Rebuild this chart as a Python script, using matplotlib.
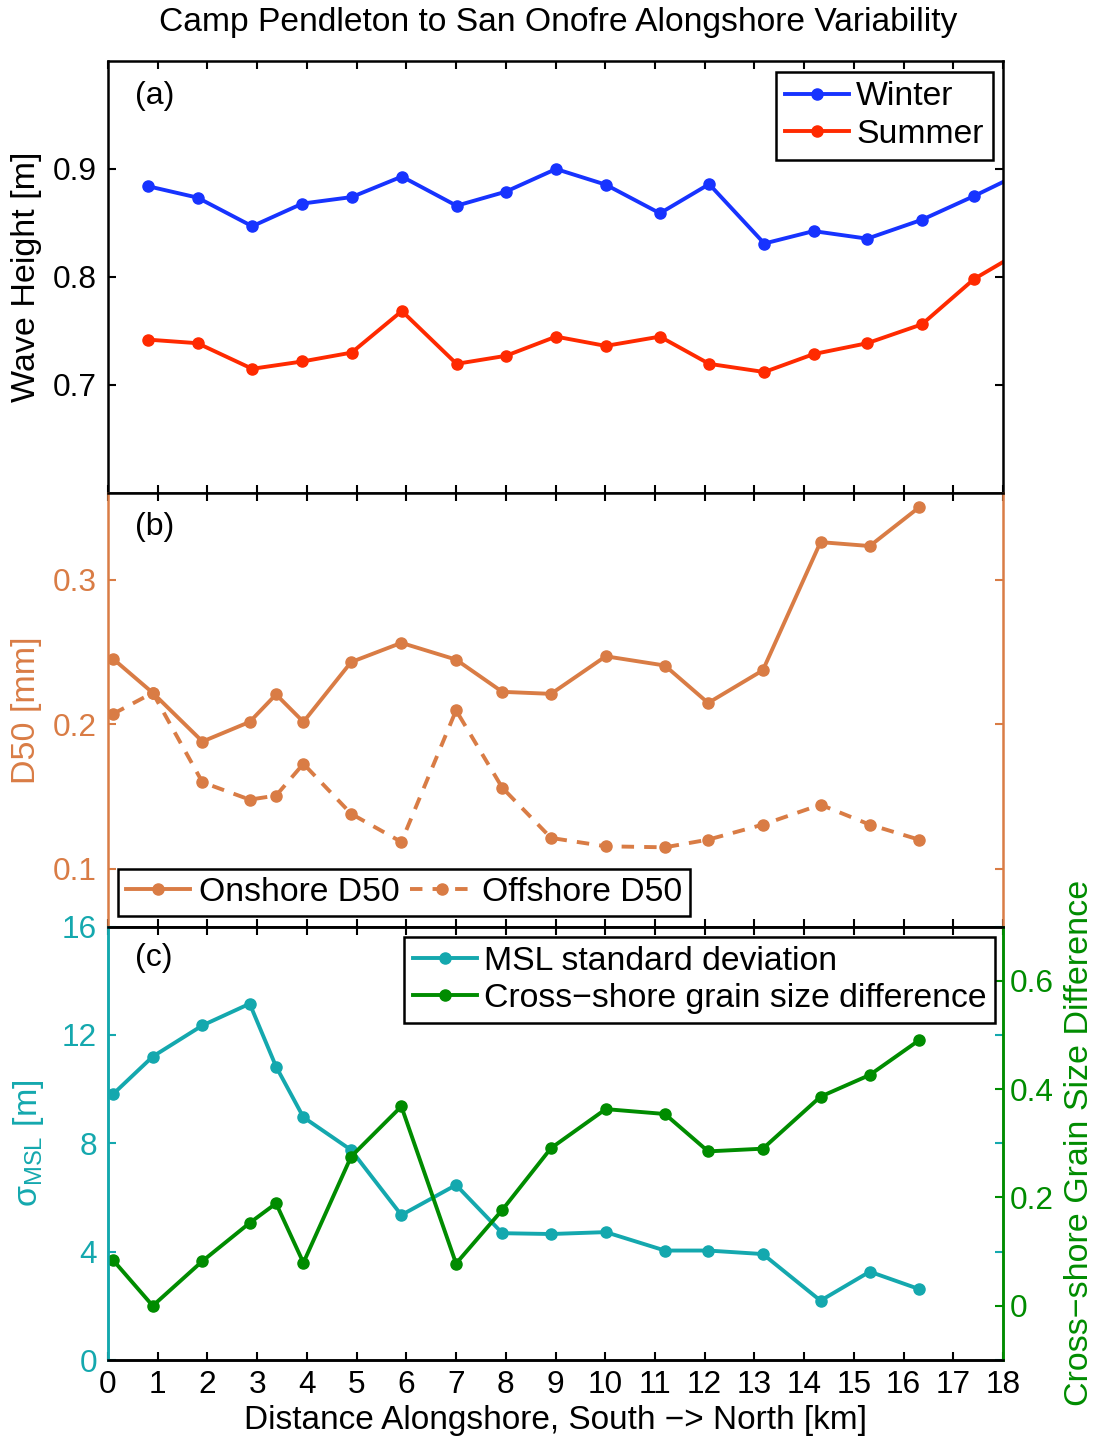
import matplotlib
matplotlib.use("Agg")
import matplotlib.pyplot as plt
from matplotlib.ticker import FuncFormatter

plt.rcParams['font.family'] = ['Liberation Sans', 'DejaVu Sans']
plt.rcParams['mathtext.fontset'] = 'custom'
plt.rcParams['mathtext.rm'] = 'Liberation Sans'
plt.rcParams['mathtext.it'] = 'Liberation Sans:italic'

# ---------------- data ----------------
wave_km = [0.81, 1.80, 2.90, 3.91, 4.90, 5.91, 7.01, 8.00, 9.01, 10.01,
           11.10, 12.09, 13.20, 14.19, 15.27, 16.37, 17.42, 18.45]
winter_h = [0.884, 0.8735, 0.847, 0.868, 0.874, 0.893, 0.866, 0.879, 0.900,
            0.8855, 0.859, 0.886, 0.831, 0.8425, 0.8355, 0.853, 0.875, 0.898]
summer_h = [0.742, 0.7387, 0.715, 0.7218, 0.730, 0.7685, 0.7196, 0.727, 0.7448,
            0.7362, 0.7448, 0.7196, 0.712, 0.7286, 0.7387, 0.7562, 0.7982, 0.826]

sed_km = [0.10, 0.90, 1.90, 2.85, 3.38, 3.93, 4.89, 5.90, 7.00, 7.93, 8.91,
          10.01, 11.20, 12.07, 13.17, 14.33, 15.32, 16.31]
onshore_d50 = [0.2453, 0.2217, 0.188, 0.2016, 0.2206, 0.2016, 0.243, 0.2563,
               0.2447, 0.2224, 0.221, 0.247, 0.2406, 0.2147, 0.2373, 0.326,
               0.3233, 0.350]
offshore_d50 = [0.2071, 0.2217, 0.1598, 0.1478, 0.1506, 0.1726, 0.138, 0.1185,
                0.2096, 0.156, 0.1213, 0.1155, 0.1148, 0.1201, 0.1305, 0.1443,
                0.1305, 0.1201]
msl_std = [9.81, 11.2, 12.35, 13.15, 10.83, 8.96, 7.75, 5.35, 6.46, 4.68, 4.65,
           4.72, 4.04, 4.04, 3.91, 2.19, 3.26, 2.62]
grain_diff = [0.0845, 0.0, 0.0826, 0.153, 0.189, 0.0795, 0.2754, 0.368, 0.078,
              0.177, 0.291, 0.363, 0.354, 0.285, 0.290, 0.386, 0.426, 0.490]

x_ticks = list(range(0, 19))
wave_ticks = [0.7, 0.8, 0.9]
d50_ticks = [0.1, 0.2, 0.3]
msl_ticks = [0, 4, 8, 12, 16]
diff_ticks = [0, 0.2, 0.4, 0.6]

# ---------------- style ----------------
BLUE = '#1733FF'
RED = '#FF2A00'
ORANGE = '#D97C45'
CYAN = '#14A8AE'
GREEN = '#008C00'

TICK_FS = 22.8
LBL_FS = 24.5
LEG_FS = 24.3
TITLE_FS = 24.2
PANEL_FS = 23
LW = 2.8
MS = 8
SPW = 1.8
TL = 5.8

fmt = FuncFormatter(lambda v, p: '%g' % round(v, 6))

fig = plt.figure(figsize=(11, 14.41), dpi=100)
L, W = 108 / 1100, 895 / 1100


def frac(top, bottom):
    return [L, 1 - bottom / 1441, W, (bottom - top) / 1441]


ax_a = fig.add_axes(frac(61, 493))
ax_b = fig.add_axes(frac(493, 926.5))
ax_c = fig.add_axes(frac(926.5, 1360))
ax_c2 = ax_c.twinx()

for ax in (ax_a, ax_b, ax_c, ax_c2):
    ax.set_xlim(0, 18)
    ax.set_xticks(x_ticks)
    ax.tick_params(axis='x', direction='in', top=True, bottom=True,
                   length=TL, width=1.5, pad=7, labelsize=TICK_FS, color='black')
    for s in ax.spines.values():
        s.set_linewidth(SPW)
for ax in (ax_a, ax_b):
    ax.tick_params(axis='x', labelbottom=False)
ax_c2.tick_params(axis='x', top=False, bottom=False, labelbottom=False)

# ---- panel (a) ----
ax_a.plot(wave_km, winter_h, '-o', color=BLUE, lw=LW, ms=MS, label='Winter')
ax_a.plot(wave_km, summer_h, '-o', color=RED, lw=LW, ms=MS, label='Summer')
ax_a.set_ylim(0.6, 1.0)
ax_a.set_yticks(wave_ticks)
ax_a.yaxis.set_major_formatter(fmt)
ax_a.tick_params(axis='y', direction='in', left=True, right=True, length=TL,
                 width=1.5, pad=8, labelsize=TICK_FS)
ax_a.set_ylabel('Wave Height [m]', fontsize=LBL_FS, va='center')
ax_a.yaxis.set_label_coords(-0.091, 0.5)
ax_a.text(0.03, 0.918, '(a)', transform=ax_a.transAxes, fontsize=PANEL_FS, va='center')
leg = ax_a.legend(loc='upper right', bbox_to_anchor=(0.9888, 0.9745),
                  borderaxespad=0, fontsize=LEG_FS, fancybox=False,
                  edgecolor='black', framealpha=1, handlelength=1.9,
                  handletextpad=0.2, borderpad=0.28, labelspacing=0.2)
leg.get_frame().set_linewidth(SPW)

# ---- panel (b) ----
ax_b.plot(sed_km, onshore_d50, '-o', color=ORANGE, lw=LW, ms=MS, label='Onshore D50')
ax_b.plot(sed_km, offshore_d50, '--o', color=ORANGE, lw=LW, ms=MS,
          dashes=(3.2, 2.6), label='Offshore D50')
ax_b.set_ylim(0.06, 0.36)
ax_b.set_yticks(d50_ticks)
ax_b.yaxis.set_major_formatter(fmt)
ax_b.tick_params(axis='y', direction='in', left=True, right=True, length=TL,
                 width=1.5, pad=8, labelsize=TICK_FS, color=ORANGE,
                 labelcolor=ORANGE)
ax_b.spines['left'].set_color(ORANGE)
ax_b.spines['right'].set_color(ORANGE)
ax_b.set_ylabel('D50 [mm]', fontsize=LBL_FS, color=ORANGE, va='center')
ax_b.yaxis.set_label_coords(-0.091, 0.5)
ax_b.text(0.03, 0.922, '(b)', transform=ax_b.transAxes, fontsize=PANEL_FS, va='center')
leg = ax_b.legend(loc='lower left', bbox_to_anchor=(0.0112, 0.0242), ncol=2,
                  borderaxespad=0, fontsize=LEG_FS, fancybox=False,
                  edgecolor='black', framealpha=1, handlelength=1.9,
                  handletextpad=0.25, borderpad=0.24, columnspacing=0.3)
leg.get_frame().set_linewidth(SPW)

# ---- panel (c) ----
l1, = ax_c.plot(sed_km, msl_std, '-o', color=CYAN, lw=LW, ms=MS,
                label='MSL standard deviation')
l2, = ax_c2.plot(sed_km, grain_diff, '-o', color=GREEN, lw=LW, ms=MS,
                 label='Cross\u2212shore grain size difference')
ax_c.set_ylim(0, 16)
ax_c.set_yticks(msl_ticks)
ax_c.yaxis.set_major_formatter(fmt)
ax_c.tick_params(axis='y', direction='in', left=True, right=True,
                 labelright=False, length=TL, width=1.5, pad=8,
                 labelsize=TICK_FS, color=CYAN, labelcolor=CYAN)
ax_c2.set_ylim(-0.1, 0.7)
ax_c2.set_yticks(diff_ticks)
ax_c2.yaxis.set_major_formatter(fmt)
ax_c2.tick_params(axis='y', direction='in', left=False, right=True,
                  labelright=True, length=TL, width=1.5, pad=5,
                  labelsize=TICK_FS, color=GREEN, labelcolor=GREEN)
for ax in (ax_c, ax_c2):
    ax.spines['left'].set_color(CYAN)
    ax.spines['right'].set_color(GREEN)
ax_c.set_ylabel('\u03c3$_{\\mathrm{MSL}}$ [m]', fontsize=LBL_FS, color=CYAN, va='center')
ax_c.yaxis.set_label_coords(-0.089, 0.5)
ax_c2.set_ylabel('Cross\u2212shore Grain Size Difference', fontsize=LBL_FS,
                 color=GREEN, va='center', rotation=90)
ax_c2.yaxis.set_label_coords(1.086, 0.5)
ax_c.set_xlabel('Distance Alongshore, South \u2212> North [km]', fontsize=24,
                va='center')
ax_c.xaxis.set_label_coords(0.5, -0.14)
ax_c.text(0.03, 0.927, '(c)', transform=ax_c.transAxes, fontsize=PANEL_FS, va='center')
leg = ax_c2.legend(handles=[l1, l2], loc='upper right',
                   bbox_to_anchor=(0.991, 0.9758), borderaxespad=0,
                   fontsize=LEG_FS, fancybox=False, edgecolor='black',
                   framealpha=1, handlelength=1.9, handletextpad=0.2,
                   borderpad=0.26, labelspacing=0.18)
leg.get_frame().set_linewidth(SPW)

fig.text(558 / 1100, 1 - 22 / 1441,
         'Camp Pendleton to San Onofre Alongshore Variability',
         ha='center', va='center', fontsize=TITLE_FS)

fig.savefig('out.png', dpi=100, facecolor='white')
